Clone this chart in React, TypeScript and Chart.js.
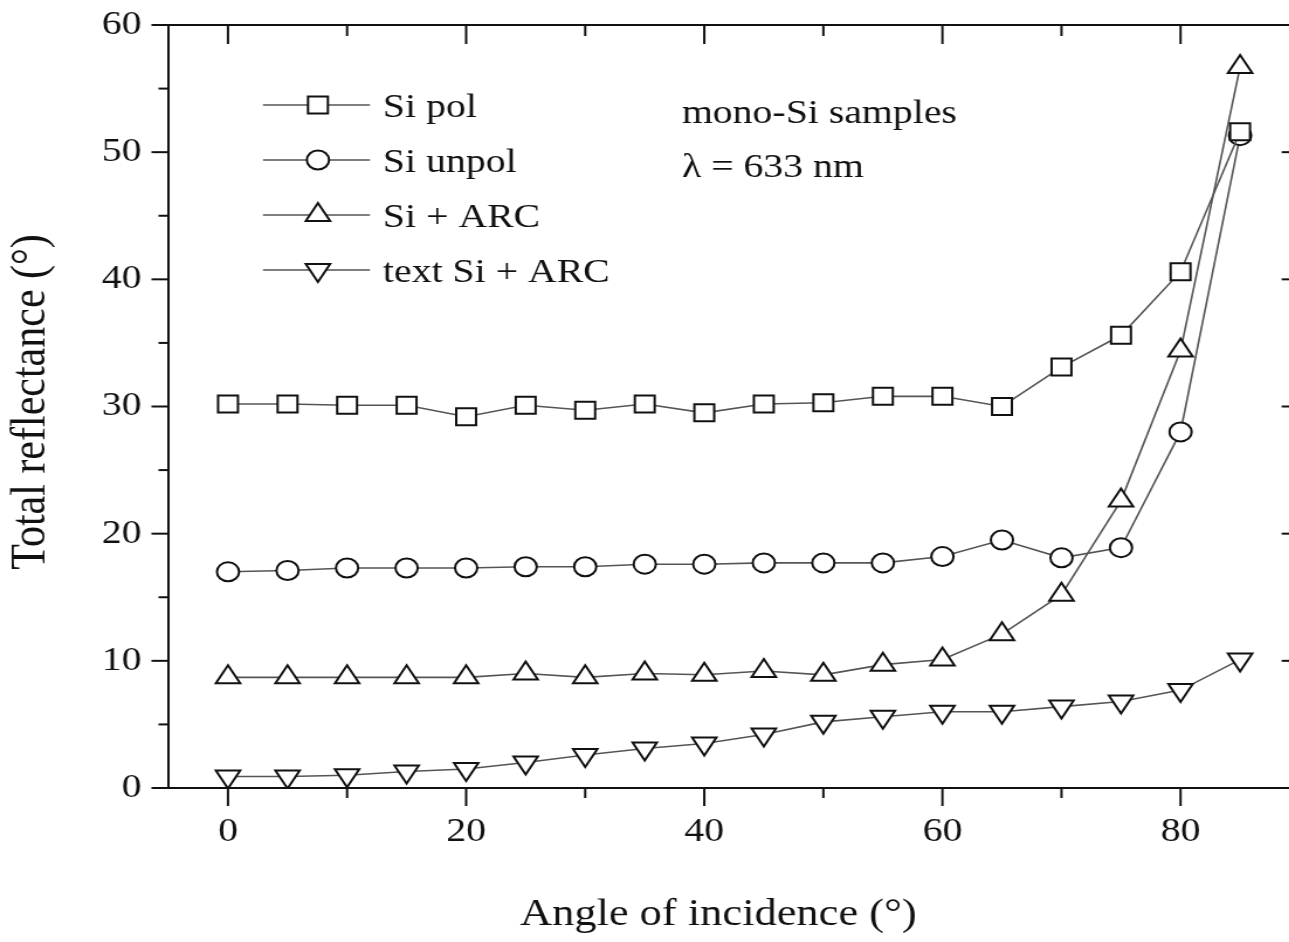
import React, { useEffect, useRef } from "react";
import { Chart, registerables } from "chart.js";
import { drawPoint } from "chart.js/helpers";

Chart.register(...registerables);

// ---------- data ----------
const ANGLES = [0, 5, 10, 15, 20, 25, 30, 35, 40, 45, 50, 55, 60, 65, 70, 75, 80, 85];
const SI_POL = [30.2, 30.2, 30.1, 30.1, 29.2, 30.1, 29.7, 30.2, 29.5, 30.2, 30.3, 30.8, 30.8, 30.0, 33.1, 35.6, 40.6, 51.6];
const SI_UNPOL = [17.0, 17.1, 17.3, 17.3, 17.3, 17.4, 17.4, 17.6, 17.6, 17.7, 17.7, 17.7, 18.2, 19.5, 18.1, 18.9, 28.0, 51.3];
const SI_ARC = [8.7, 8.7, 8.7, 8.7, 8.7, 9.0, 8.7, 9.0, 8.9, 9.2, 8.9, 9.7, 10.1, 12.1, 15.2, 22.6, 34.4, 56.7];
const TEXT_SI_ARC = [0.9, 0.9, 1.0, 1.3, 1.5, 2.0, 2.6, 3.1, 3.5, 4.2, 5.2, 5.6, 6.0, 6.0, 6.4, 6.8, 7.7, 10.1];
const SERIES_LABELS = ["Si pol", "Si unpol", "Si + ARC", "text Si + ARC"];

const X_MAJOR = [0, 20, 40, 60, 80];
const X_MINOR = [10, 30, 50, 70];
const Y_MAJOR = [0, 10, 20, 30, 40, 50, 60];
const Y_MINOR = [5, 15, 25, 35, 45, 55];

const X_TITLE = "Angle of incidence (°)";
const Y_TITLE = "Total reflectance (°)";
const NOTE_LINES = ["mono-Si samples", "λ = 633 nm"];

// ---------- geometry / style ----------
const STRETCH = 1.17; // horizontal stretch of the picture
const W = 1125;
const H = 942;
const FONT = '"Liberation Serif", "Times New Roman", serif';
const INK = "#111";
const LINE_COLOR = "#555";
const X_TO_INT = (px: number) => px / STRETCH;

const makeFrame = () => ({
  id: "frame",
  beforeDatasetsDraw(chart: any) {
    const { ctx, chartArea } = chart;
    const { left, right, top, bottom } = chartArea;
    const x = chart.scales.x;
    const y = chart.scales.y;
    const hx = 1 / STRETCH;
    ctx.save();
    ctx.strokeStyle = INK;
    ctx.lineWidth = 2;
    ctx.lineCap = "butt";
    ctx.strokeRect(left, top, right - left, bottom - top);
    const seg = (a: number, b: number, c: number, d: number) => {
      ctx.beginPath();
      ctx.moveTo(a, b);
      ctx.lineTo(c, d);
      ctx.stroke();
    };
    X_MAJOR.forEach((v) => {
      const p = x.getPixelForValue(v);
      seg(p, bottom, p, bottom + 18);
      seg(p, top, p, top + 19);
    });
    X_MINOR.forEach((v) => {
      const p = x.getPixelForValue(v);
      seg(p, bottom, p, bottom + 10);
      seg(p, top, p, top + 11);
    });
    Y_MAJOR.forEach((v) => {
      const p = y.getPixelForValue(v);
      seg(left - 17 * hx, p, left, p);
      seg(right - 18 * hx, p, right, p);
    });
    Y_MINOR.forEach((v) => {
      const p = y.getPixelForValue(v);
      seg(left - 10 * hx, p, left, p);
      seg(right - 10 * hx, p, right, p);
    });
    ctx.restore();
  },
});

const makeTexts = () => ({
  id: "texts",
  afterDraw(chart: any) {
    const { ctx } = chart;
    ctx.save();
    // legend
    const rows = [105, 160, 215, 270];
    chart.data.datasets.forEach((ds: any, i: number) => {
      const yy = rows[i];
      ctx.strokeStyle = ds.borderColor;
      ctx.lineWidth = ds.borderWidth;
      ctx.beginPath();
      ctx.moveTo(X_TO_INT(263), yy);
      ctx.lineTo(X_TO_INT(370), yy);
      ctx.stroke();
      ctx.fillStyle = "#fff";
      ctx.strokeStyle = ds.pointBorderColor;
      ctx.lineWidth = ds.pointBorderWidth;
      drawPoint(
        ctx,
        {
          pointStyle: ds.pointStyle,
          rotation: ds.pointRotation || 0,
          radius: ds.pointRadius,
          borderWidth: ds.pointBorderWidth,
        },
        X_TO_INT(318),
        yy
      );
      ctx.fillStyle = INK;
      ctx.font = `34px ${FONT}`;
      ctx.textAlign = "left";
      ctx.textBaseline = "alphabetic";
      ctx.fillText(ds.label, X_TO_INT(383), yy + 12);
    });
    // note
    ctx.fillStyle = INK;
    ctx.font = `34px ${FONT}`;
    ctx.fillText(NOTE_LINES[0], X_TO_INT(682), 123);
    ctx.fillText(NOTE_LINES[1], X_TO_INT(682), 177);
    // axis titles
    ctx.font = `38px ${FONT}`;
    ctx.textAlign = "left";
    ctx.fillText(X_TITLE, X_TO_INT(520), 925);
    ctx.save();
    ctx.translate(X_TO_INT(45), 402);
    ctx.rotate(-Math.PI / 2);
    ctx.font = `42px ${FONT}`;
    ctx.textAlign = "center";
    ctx.fillText(Y_TITLE, 0, 0);
    ctx.restore();
    ctx.restore();
  },
});

const series = [SI_POL, SI_UNPOL, SI_ARC, TEXT_SI_ARC];
const POINT_STYLES = ["rect", "circle", "triangle", "triangle"];
const POINT_RADII = [12, 9.5, 12, 12];
const POINT_ROT = [0, 0, 0, 180];

const zeroPad = (s: any) => {
  s.paddingTop = 0;
  s.paddingBottom = 0;
  s.paddingLeft = 0;
  s.paddingRight = 0;
};

export default function App() {
  const ref = useRef<HTMLCanvasElement | null>(null);
  useEffect(() => {
    if (!ref.current) return;
    const datasets = series.map((vals, i) => ({
      label: SERIES_LABELS[i],
      data: ANGLES.map((a, j) => ({ x: a, y: vals[j] })),
      borderColor: LINE_COLOR,
      borderWidth: 1.6,
      pointStyle: POINT_STYLES[i],
      pointRadius: POINT_RADII[i],
      pointRotation: POINT_ROT[i],
      pointBorderWidth: 2,
      pointBorderColor: INK,
      pointBackgroundColor: "#fff",
      tension: 0,
      fill: false,
    }));
    const tickFont = { family: FONT, size: 34 };
    const chart = new Chart(ref.current, {
      type: "line",
      data: { datasets },
      options: {
        responsive: false,
        animation: false,
        devicePixelRatio: 1,
        layout: { padding: { left: 0, right: W - X_TO_INT(1303), top: 25, bottom: 0 } },
        plugins: { legend: { display: false }, tooltip: { enabled: false } },
        scales: {
          x: {
            type: "linear",
            min: -5,
            max: 90,
            grid: { display: false, drawTicks: false, tickLength: 0 },
            border: { display: false },
            ticks: { font: tickFont, color: INK, padding: 24, maxRotation: 0 },
            afterBuildTicks: (s: any) => {
              s.ticks = X_MAJOR.map((v) => ({ value: v }));
            },
            afterFit: (s: any) => {
              s.height = H - 788;
              zeroPad(s);
            },
          },
          y: {
            type: "linear",
            min: 0,
            max: 60,
            grid: { display: false, drawTicks: false, tickLength: 0 },
            border: { display: false },
            ticks: { font: tickFont, color: INK, padding: 23 },
            afterBuildTicks: (s: any) => {
              s.ticks = Y_MAJOR.map((v) => ({ value: v }));
            },
            afterFit: (s: any) => {
              s.width = X_TO_INT(168.5);
              zeroPad(s);
            },
          },
        },
      } as any,
      plugins: [makeFrame(), makeTexts()],
    });
    return () => chart.destroy();
  }, []);

  return (
    <div
      style={{
        position: "fixed",
        left: 0,
        top: 0,
        width: 1289,
        height: 942,
        overflow: "hidden",
        background: "#fff",
      }}
    >
      <canvas
        ref={ref}
        width={W}
        height={H}
        style={{ display: "block", width: `${W * STRETCH}px`, height: `${H}px` }}
      />
    </div>
  );
}
